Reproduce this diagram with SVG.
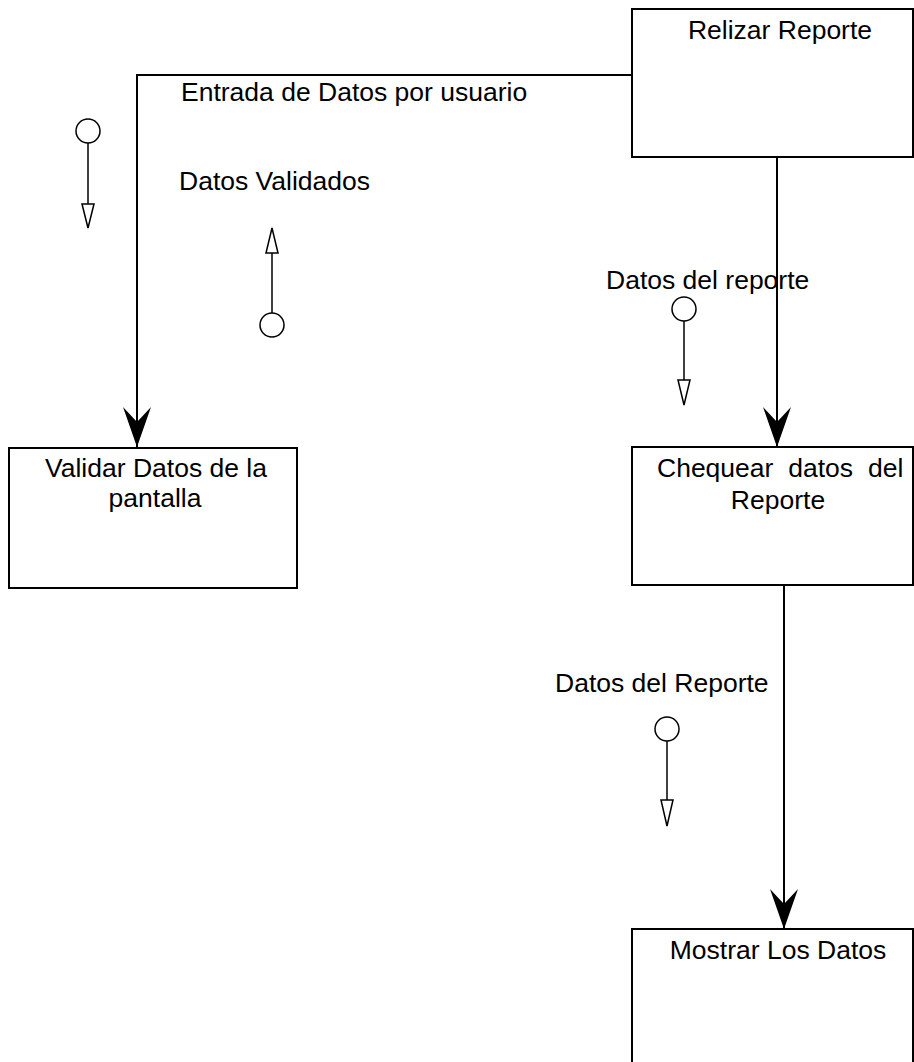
<svg xmlns="http://www.w3.org/2000/svg" width="914" height="1062" viewBox="0 0 914 1062">
<style>
.box{fill:#fff;stroke:#000;stroke-width:2}
.lbl{font-family:"Liberation Sans",Arial,sans-serif;font-size:26.5px;fill:#000}
.mid{text-anchor:middle}
.conn{fill:none;stroke:#000;stroke-width:2}
.flow{fill:none;stroke:#000;stroke-width:1.5}
.tok{fill:#fff;stroke:#000;stroke-width:1.5}
</style>
<defs>
<marker id="big" markerUnits="userSpaceOnUse" markerWidth="42" markerHeight="30" refX="40" refY="14" orient="auto">
<path d="M40,14 L0,0 L15,14 L0,28 Z" fill="#000"/>
</marker>
</defs>
<rect width="914" height="1062" fill="#fff"/>
<g id="connectors">
<path class="conn" d="M632,75 H137 V447" marker-end="url(#big)"/>
<path class="conn" d="M777,157 V447" marker-end="url(#big)"/>
<path class="conn" d="M784,585 V929" marker-end="url(#big)"/>
</g>
<g id="node-relizar">
<rect class="box" x="632" y="9" width="281" height="148"/>
<text class="lbl mid" x="780" y="39">Relizar Reporte</text>
</g>
<g id="node-validar">
<rect class="box" x="9" y="448" width="288" height="140"/>
<text class="lbl mid" x="156" y="477">Validar Datos de la</text>
<text class="lbl mid" x="155" y="507">pantalla</text>
</g>
<g id="node-chequear">
<rect class="box" x="632" y="447" width="281" height="138"/>
<text class="lbl" x="657" y="477" word-spacing="7.5">Chequear datos del</text>
<text class="lbl mid" x="778" y="509">Reporte</text>
</g>
<g id="node-mostrar">
<rect class="box" x="632" y="929" width="281" height="140"/>
<text class="lbl mid" x="778" y="959">Mostrar Los Datos</text>
</g>
<g id="flow-entrada">
<text class="lbl" x="181" y="101">Entrada de Datos por usuario</text>
<circle class="tok" cx="88" cy="131" r="12"/>
<line class="flow" x1="88" y1="143" x2="88" y2="204"/>
<polygon class="tok" points="82,204 94,204 88,228"/>
</g>
<g id="flow-validados">
<text class="lbl" x="179" y="190">Datos Validados</text>
<circle class="tok" cx="272" cy="325" r="12"/>
<line class="flow" x1="272" y1="313" x2="272" y2="253"/>
<polygon class="tok" points="266,253 278,253 272,228"/>
</g>
<g id="flow-reporte1">
<text class="lbl" x="606" y="289">Datos del reporte</text>
<circle class="tok" cx="684" cy="309" r="12"/>
<line class="flow" x1="684" y1="321" x2="684" y2="380"/>
<polygon class="tok" points="678,380 690,380 684,405"/>
</g>
<g id="flow-reporte2">
<text class="lbl" x="555" y="692">Datos del Reporte</text>
<circle class="tok" cx="667" cy="729" r="12"/>
<line class="flow" x1="667" y1="741" x2="667" y2="800"/>
<polygon class="tok" points="661,800 673,800 667,826"/>
</g>
</svg>
